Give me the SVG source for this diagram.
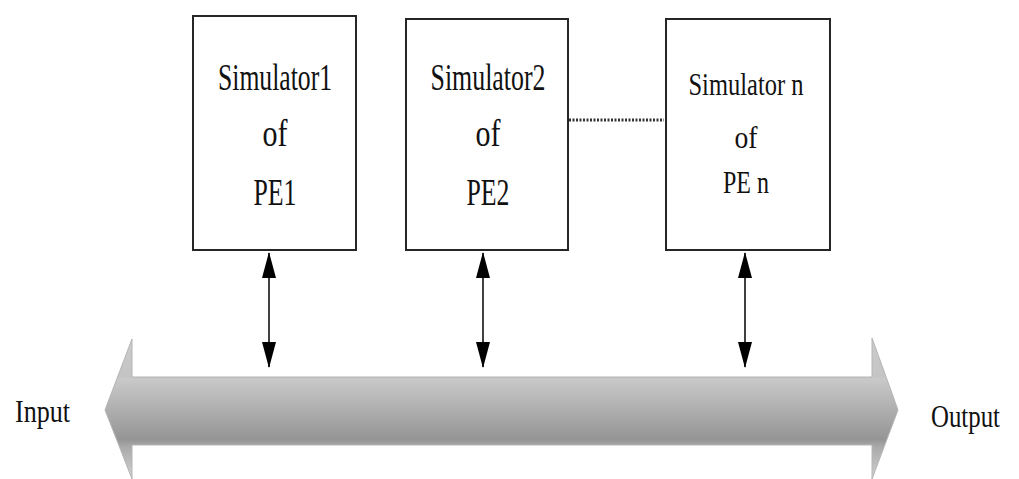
<svg xmlns="http://www.w3.org/2000/svg" width="1019" height="479" viewBox="0 0 1019 479">
  <style>
    .box { fill: #ffffff; stroke: #262626; stroke-width: 2; }
    .lbl { font-family: "Liberation Serif", "DejaVu Serif", serif; fill: #111111; text-anchor: middle; }
    .big { font-size: 37px; }
    .mid { font-size: 31px; }
    .io { font-family: "Liberation Serif", "DejaVu Serif", serif; font-size: 31px; fill: #111111; }
    .link { stroke: #111111; stroke-width: 1.6; fill: none; marker-start: url(#head); marker-end: url(#head); }
    .dots { stroke: #333333; stroke-width: 3; stroke-dasharray: 2 1.5; fill: none; }
  </style>
  <defs>
    <marker id="head" viewBox="0 0 26 14" refX="25" refY="7" markerWidth="26" markerHeight="14" markerUnits="userSpaceOnUse" orient="auto-start-reverse">
      <path d="M0,0 L26,7 L0,14 Z" fill="#000000"/>
    </marker>
    <linearGradient id="busFill" x1="0" y1="0" x2="0" y2="1">
      <stop offset="0" stop-color="#cdcdcd"/>
      <stop offset="0.27" stop-color="#c4c4c4"/>
      <stop offset="0.29" stop-color="#c9c9c9"/>
      <stop offset="0.72" stop-color="#959595"/>
      <stop offset="0.77" stop-color="#a9a9a9"/>
      <stop offset="1" stop-color="#d2d2d2"/>
    </linearGradient>
  </defs>

  <!-- shared bus: double-headed block arrow -->
  <g id="bus">
    <polygon points="105,410 132,339 132,377 872,377 872,338 898,410 872,479 872,445 132,445 132,479"
             fill="url(#busFill)" stroke="#b4b4b4" stroke-width="1"/>
  </g>

  <g id="sim1">
    <rect class="box" x="193" y="16" width="163" height="234"/>
    <text class="lbl big" x="275" y="90" textLength="114" lengthAdjust="spacingAndGlyphs">Simulator1</text>
    <text class="lbl big" x="275" y="146" textLength="25" lengthAdjust="spacingAndGlyphs">of</text>
    <text class="lbl big" x="275" y="205" textLength="43" lengthAdjust="spacingAndGlyphs">PE1</text>
  </g>

  <g id="sim2">
    <rect class="box" x="406" y="19" width="162" height="231"/>
    <text class="lbl big" x="488" y="90" textLength="115" lengthAdjust="spacingAndGlyphs">Simulator2</text>
    <text class="lbl big" x="488" y="146" textLength="25" lengthAdjust="spacingAndGlyphs">of</text>
    <text class="lbl big" x="488" y="205" textLength="43" lengthAdjust="spacingAndGlyphs">PE2</text>
  </g>

  <g id="simn">
    <rect class="box" x="666" y="19" width="164" height="231"/>
    <text class="lbl mid" x="746" y="95" textLength="115" lengthAdjust="spacingAndGlyphs">Simulator n</text>
    <text class="lbl mid" x="746" y="148" textLength="23" lengthAdjust="spacingAndGlyphs">of</text>
    <text class="lbl mid" x="746" y="193" textLength="46" lengthAdjust="spacingAndGlyphs">PE n</text>
  </g>

  <g id="io-labels">
    <text class="io" x="15" y="422" textLength="55" lengthAdjust="spacingAndGlyphs">Input</text>
    <text class="io" x="931" y="427" textLength="69" lengthAdjust="spacingAndGlyphs">Output</text>
  </g>

  <g id="connectors">
    <line class="dots" x1="569" y1="120" x2="664" y2="120"/>
    <line class="link" x1="269" y1="253" x2="269" y2="367"/>
    <line class="link" x1="483" y1="253" x2="483" y2="367"/>
    <line class="link" x1="745" y1="253" x2="745" y2="367"/>
  </g>
</svg>
